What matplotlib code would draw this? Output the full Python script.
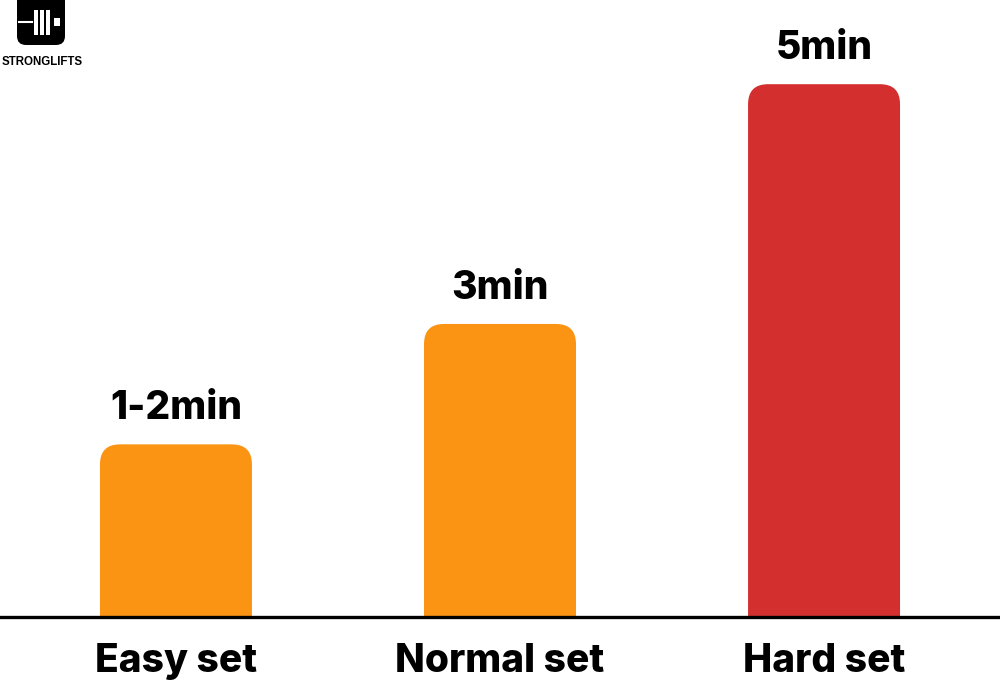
import matplotlib.pyplot as plt
from matplotlib.patches import FancyBboxPatch

# chart data
categories = ["Easy set", "Normal set", "Hard set"]
values = [1.62, 2.75, 5.0]
value_labels = ["1-2min", "3min", "5min"]
colors = ["#FB9313", "#FB9313", "#D32F2F"]


def main():
    plt.rcParams['font.family'] = ['Inter', 'DejaVu Sans']
    fig = plt.figure(figsize=(10, 6.84), dpi=100)
    ax = fig.add_axes([0, 1 - 617 / 684, 1, 617 / 684])

    x = list(range(len(categories)))
    bars = ax.bar(x, values, width=0.469, color=colors)
    ax.set_xlim(-0.543, 2.543)
    ax.set_ylim(0, 5.79)

    # swap the plain bars for ones with rounded tops
    px_x = 324.0   # pixels per x unit
    px_y = 106.6   # pixels per y unit
    r = 20 / px_x
    for rect, c in zip(bars, colors):
        x0, w, h = rect.get_x(), rect.get_width(), rect.get_height()
        rect.set_visible(False)
        p = FancyBboxPatch((x0, -0.5), w, h + 0.5,
                           boxstyle="round,pad=0,rounding_size=%f" % r,
                           mutation_aspect=px_x / px_y,
                           facecolor=c, edgecolor='none')
        ax.add_patch(p)

    for xi, v, lab in zip(x, values, value_labels):
        ax.text(xi, v + 0.16, lab, ha='center', va='bottom',
                fontsize=28, fontweight='heavy')

    ax.axhline(0, color='black', lw=2.4, clip_on=False)
    ax.set_xticks(x)
    ax.set_xticklabels(categories, fontsize=28, fontweight='heavy')
    ax.tick_params(axis='x', length=0, pad=19)
    ax.set_yticks([])
    for s in ax.spines.values():
        s.set_visible(False)

    # logo in the top left corner
    logo = fig.add_axes([0, 0, 1, 1], zorder=5)
    logo.set_xlim(0, 1000)
    logo.set_ylim(684, 0)
    logo.axis('off')
    logo.add_patch(FancyBboxPatch((17, -10), 48, 55,
                                  boxstyle="round,pad=0,rounding_size=9",
                                  facecolor='black', edgecolor='none'))
    logo.plot([19, 32], [22, 22], color='white', lw=1.5)
    for bx in [33.5, 39.5, 45.5]:
        logo.add_patch(plt.Rectangle((bx, 10), 4, 25, facecolor='white'))
    logo.add_patch(plt.Rectangle((54, 18), 6, 8, facecolor='white'))
    logo.text(42, 62, "STRONGLIFTS", ha='center', va='center', fontsize=8.3,
              fontweight='heavy', family=['Liberation Sans', 'DejaVu Sans'])

    fig.savefig('out.png', dpi=100)
    plt.close(fig)


if __name__ == '__main__':
    main()
